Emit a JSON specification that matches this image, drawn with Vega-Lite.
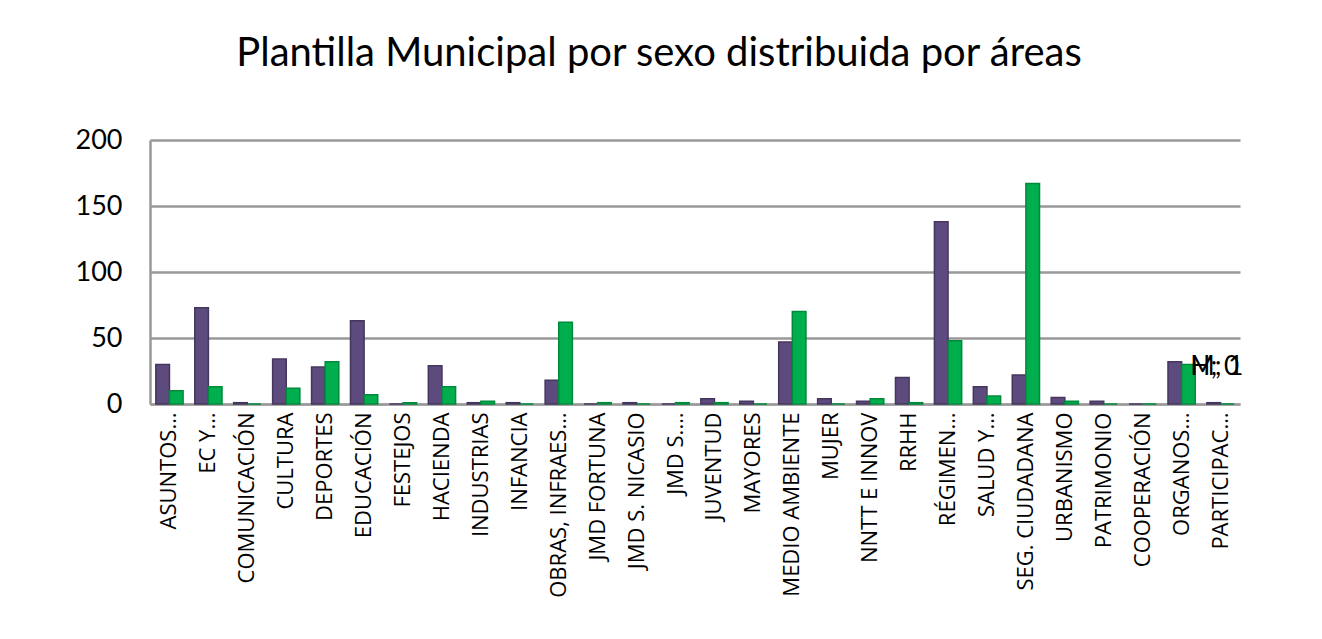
{
  "$schema": "https://vega.github.io/schema/vega-lite/v6.json",
  "autosize": {"type": "none"},
  "width": 1090,
  "height": 264,
  "padding": {"left": 150, "top": 140, "right": 82, "bottom": 235},
  "background": "white",
  "title": {
    "text": "Plantilla Municipal por sexo distribuida por áreas",
    "font": "Lato",
    "fontSize": 40,
    "fontWeight": "normal",
    "color": "#000000",
    "anchor": "middle",
    "dx": -36,
    "offset": 52
  },
  "config": {
    "view": {"stroke": null},
    "font": "Lato"
  },
  "data": {
    "values": [
      {"area": "ASUNTOS…", "sexo": "M", "n": 30},
      {"area": "ASUNTOS…", "sexo": "H", "n": 10},
      {"area": "EC Y…", "sexo": "M", "n": 73},
      {"area": "EC Y…", "sexo": "H", "n": 13},
      {"area": "COMUNICACIÓN", "sexo": "M", "n": 1},
      {"area": "COMUNICACIÓN", "sexo": "H", "n": 0},
      {"area": "CULTURA", "sexo": "M", "n": 34},
      {"area": "CULTURA", "sexo": "H", "n": 12},
      {"area": "DEPORTES", "sexo": "M", "n": 28},
      {"area": "DEPORTES", "sexo": "H", "n": 32},
      {"area": "EDUCACIÓN", "sexo": "M", "n": 63},
      {"area": "EDUCACIÓN", "sexo": "H", "n": 7},
      {"area": "FESTEJOS", "sexo": "M", "n": 0},
      {"area": "FESTEJOS", "sexo": "H", "n": 1},
      {"area": "HACIENDA", "sexo": "M", "n": 29},
      {"area": "HACIENDA", "sexo": "H", "n": 13},
      {"area": "INDUSTRIAS", "sexo": "M", "n": 1},
      {"area": "INDUSTRIAS", "sexo": "H", "n": 2},
      {"area": "INFANCIA", "sexo": "M", "n": 1},
      {"area": "INFANCIA", "sexo": "H", "n": 0},
      {"area": "OBRAS, INFRAES…", "sexo": "M", "n": 18},
      {"area": "OBRAS, INFRAES…", "sexo": "H", "n": 62},
      {"area": "JMD FORTUNA", "sexo": "M", "n": 0},
      {"area": "JMD FORTUNA", "sexo": "H", "n": 1},
      {"area": "JMD S. NICASIO", "sexo": "M", "n": 1},
      {"area": "JMD S. NICASIO", "sexo": "H", "n": 0},
      {"area": "JMD S.…", "sexo": "M", "n": 0},
      {"area": "JMD S.…", "sexo": "H", "n": 1},
      {"area": "JUVENTUD", "sexo": "M", "n": 4},
      {"area": "JUVENTUD", "sexo": "H", "n": 1},
      {"area": "MAYORES", "sexo": "M", "n": 2},
      {"area": "MAYORES", "sexo": "H", "n": 0},
      {"area": "MEDIO AMBIENTE", "sexo": "M", "n": 47},
      {"area": "MEDIO AMBIENTE", "sexo": "H", "n": 70},
      {"area": "MUJER", "sexo": "M", "n": 4},
      {"area": "MUJER", "sexo": "H", "n": 0},
      {"area": "NNTT E INNOV", "sexo": "M", "n": 2},
      {"area": "NNTT E INNOV", "sexo": "H", "n": 4},
      {"area": "RRHH", "sexo": "M", "n": 20},
      {"area": "RRHH", "sexo": "H", "n": 1},
      {"area": "RÉGIMEN…", "sexo": "M", "n": 138},
      {"area": "RÉGIMEN…", "sexo": "H", "n": 48},
      {"area": "SALUD Y…", "sexo": "M", "n": 13},
      {"area": "SALUD Y…", "sexo": "H", "n": 6},
      {"area": "SEG. CIUDADANA", "sexo": "M", "n": 22},
      {"area": "SEG. CIUDADANA", "sexo": "H", "n": 167},
      {"area": "URBANISMO", "sexo": "M", "n": 5},
      {"area": "URBANISMO", "sexo": "H", "n": 2},
      {"area": "PATRIMONIO", "sexo": "M", "n": 2},
      {"area": "PATRIMONIO", "sexo": "H", "n": 0},
      {"area": "COOPERACIÓN", "sexo": "M", "n": 0},
      {"area": "COOPERACIÓN", "sexo": "H", "n": 0},
      {"area": "ORGANOS…", "sexo": "M", "n": 32},
      {"area": "ORGANOS…", "sexo": "H", "n": 30},
      {"area": "PARTICIPAC…", "sexo": "M", "n": 1},
      {"area": "PARTICIPAC…", "sexo": "H", "n": 0}
    ]
  },
  "layer": [
    {
      "mark": {"type": "bar", "strokeWidth": 1.5},
      "encoding": {
        "x": {
          "field": "area",
          "type": "nominal",
          "sort": null,
          "scale": {"paddingInner": 0.3, "paddingOuter": 0.15},
          "axis": {
            "title": null,
            "labelAngle": -90,
            "labelFont": "Open Sans",
            "labelFontSize": 22,
            "labelColor": "#000000",
            "labelPadding": 8,
            "ticks": false,
            "domainColor": "#999999",
            "domainWidth": 2,
            "labelLimit": 300
          }
        },
        "xOffset": {
          "field": "sexo",
          "type": "nominal",
          "sort": ["M", "H"],
          "scale": {"paddingInner": 0, "paddingOuter": 0}
        },
        "y": {
          "field": "n",
          "type": "quantitative",
          "scale": {"domain": [0, 200]},
          "axis": {
            "title": null,
            "values": [0, 50, 100, 150, 200],
            "labelFont": "Lato",
            "labelFontSize": 27,
            "labelColor": "#000000",
            "labelPadding": 28,
            "ticks": false,
            "grid": true,
            "gridColor": "#999999",
            "gridWidth": 2.5,
            "domainColor": "#999999",
            "domainWidth": 2.5
          }
        },
        "color": {
          "field": "sexo",
          "type": "nominal",
          "scale": {"domain": ["M", "H"], "range": ["#5E4B7E", "#00AE4D"]},
          "legend": null
        },
        "stroke": {
          "field": "sexo",
          "type": "nominal",
          "scale": {"domain": ["M", "H"], "range": ["#45365E", "#008A3C"]},
          "legend": null
        }
      }
    },
    {
      "data": {"values": [{"area": "ORGANOS…", "lab": "M; 1"}, {"area": "ORGANOS…", "lab": "H; 0"}]},
      "mark": {"type": "text", "align": "left", "baseline": "middle", "dx": 9, "font": "Lato", "fontSize": 26, "color": "#000000"},
      "encoding": {
        "x": {"field": "area", "type": "nominal", "sort": null},
        "y": {"datum": 28, "type": "quantitative"},
        "text": {"field": "lab"}
      }
    }
  ]
}
